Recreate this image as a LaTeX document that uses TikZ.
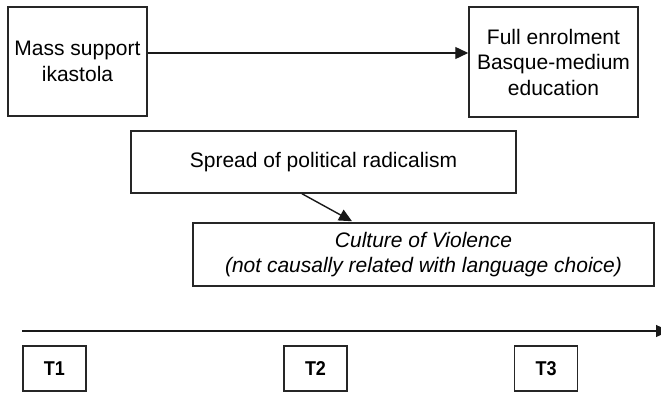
\documentclass[tikz,border=0pt]{standalone}
\usepackage{fontspec}
\setmainfont{Liberation Sans}
\usetikzlibrary{arrows.meta}
\tikzset{
  boxn/.style={draw=black!85, line width=1.5pt, inner sep=0pt, align=center,
    font=\fontsize{21}{25.5}\selectfont},
  tbox/.style={draw=black!85, line width=1.5pt, inner sep=0pt,
    minimum width=63pt, minimum height=45pt, font=\fontsize{20}{22}\selectfont\bfseries},
  arr/.style={draw=black!90, line width=1.4pt, -{Triangle[length=13pt,width=12pt]}}
}
\begin{document}
\begin{tikzpicture}[x=1pt,y=-1pt]
\clip (0,0) rectangle (661,393);
\useasboundingbox (0,0) rectangle (661,393);
\node[boxn, minimum width=139pt, minimum height=109pt] (A) at (77.5,61.5) {Mass support\\ikastola};
\node[boxn, minimum width=169pt, minimum height=110pt] (B) at (553.5,62) {Full enrolment\\Basque-medium\\education};
\node[boxn, minimum width=385pt, minimum height=62pt] (S) at (323.5,162) {Spread of political radicalism};
\node[boxn, minimum width=461pt, minimum height=63pt] (C) at (423.5,254.5) {\itshape Culture of Violence\\\itshape (not causally related with language choice)};
\node[tbox] (T1) at (54.5,368.5) {\scalebox{0.9}[1]{T1}};
\node[tbox] (T2) at (315.5,368.5) {\scalebox{0.9}[1]{T2}};
\node[tbox] (T3) at (546,368.5) {\scalebox{0.9}[1]{T3}};
\coordinate (tl0) at (22,331);
\coordinate (tl1) at (669,331);
\draw[arr] ([yshift=8.5pt]A.east) -- ([yshift=9pt]B.west);
\draw[arr] ([xshift=-21.5pt]S.south) -- ([xshift=-71.5pt,yshift=1pt]C.north);
\draw[arr] (tl0) -- (tl1);
\end{tikzpicture}
\end{document}
